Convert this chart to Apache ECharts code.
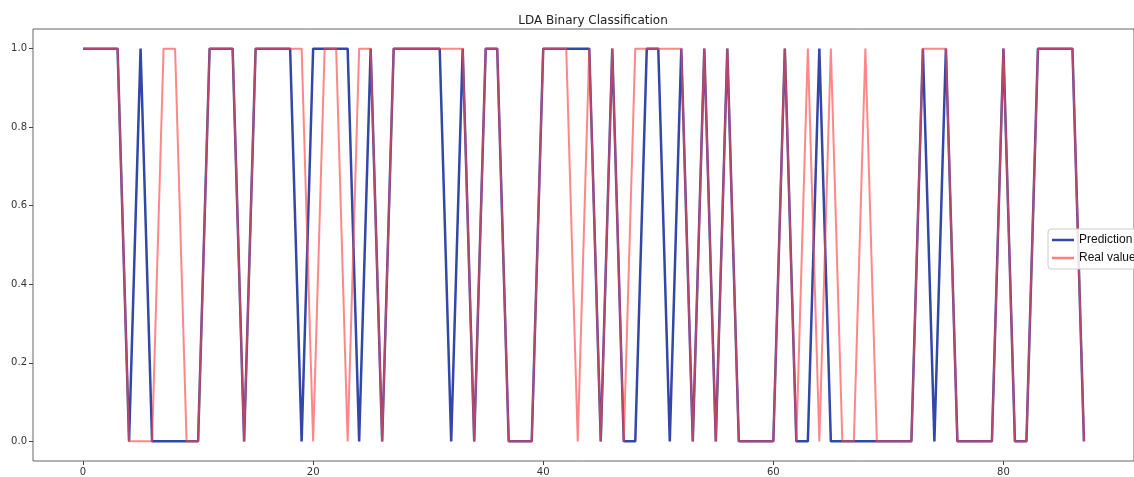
<!DOCTYPE html>
<html>
<head>
<meta charset="utf-8">
<script src="https://cdn.jsdelivr.net/npm/echarts@6/dist/echarts.min.js"></script>
<style>
	html, body { margin: 0; padding: 0; background: #fff; }
	#chart { width: 1134px; height: 477px; }
</style>
</head>
<body>
<div id="chart"></div>
<script>
// 数据: 每个样本的预测值与真实值 (0..87)
var prediction = [1, 1, 1, 1, 0, 1, 0, 0, 0, 0, 0, 1, 1, 1, 0, 1, 1, 1, 1, 0,
	1, 1, 1, 1, 0, 1, 0, 1, 1, 1, 1, 1, 0, 1, 0, 1, 1, 0, 0, 0,
	1, 1, 1, 1, 1, 0, 1, 0, 0, 1, 1, 0, 1, 0, 1, 0, 1, 0, 0, 0,
	0, 1, 0, 0, 1, 0, 0, 0, 0, 0, 0, 0, 0, 1, 0, 1, 0, 0, 0, 0,
	1, 0, 0, 1, 1, 1, 1, 0]
var realValues = [1, 1, 1, 1, 0, 0, 0, 1, 1, 0, 0, 1, 1, 1, 0, 1, 1, 1, 1, 1,
	0, 1, 1, 0, 1, 1, 0, 1, 1, 1, 1, 1, 1, 1, 0, 1, 1, 0, 0, 0,
	1, 1, 1, 0, 1, 0, 1, 0, 1, 1, 1, 1, 1, 0, 1, 0, 1, 0, 0, 0,
	0, 1, 0, 1, 0, 1, 0, 0, 1, 0, 0, 0, 0, 1, 1, 1, 0, 0, 0, 0,
	1, 0, 0, 1, 1, 1, 1, 0]
var xTicks = [0, 20, 40, 60, 80]
var yTicks = [0, 0.2, 0.4, 0.6, 0.8, 1.0]

var chart = echarts.init(document.getElementById('chart'))
var axisText = { color: '#333', fontSize: 10, fontFamily: 'DejaVu Sans' }

var option = {
	animation: false,
	title: {
		text: 'LDA Binary Classification',
		left: 588,
		textAlign: 'center',
		top: 10,
		textStyle: { fontSize: 12, fontWeight: 'normal', color: '#222', fontFamily: 'DejaVu Sans' }
	},
	legend: {
		orient: 'vertical',
		left: 1048,
		top: 229,
		icon: 'rect',
		itemWidth: 22,
		itemHeight: 2.5,
		itemGap: 6,
		padding: [5, 6, 5, 4],
		borderColor: '#ccc',
		borderWidth: 1,
		borderRadius: 3,
		backgroundColor: 'rgba(255,255,255,0.85)',
		textStyle: { fontSize: 12, color: '#111', fontFamily: 'Liberation Sans' },
		data: ['Prediction', 'Real values']
	},
	grid: {
		left: 33,
		top: 29,
		width: 1110,
		height: 435,
		show: true,
		borderColor: '#666',
		borderWidth: 1
	},
	xAxis: {
		type: 'value',
		min: -4.35,
		max: 91.35,
		splitLine: { show: false },
		axisLine: { show: false, onZero: false },
		axisTick: { show: true, length: 4, lineStyle: { color: '#444' }, customValues: xTicks },
		axisLabel: Object.assign({ customValues: xTicks, margin: 6 }, axisText)
	},
	yAxis: {
		type: 'value',
		min: -0.05,
		max: 1.05,
		splitLine: { show: false },
		axisLine: { show: false, onZero: false },
		axisTick: { show: true, length: 4, lineStyle: { color: '#444' }, customValues: yTicks },
		axisLabel: Object.assign({
			customValues: yTicks,
			margin: 6,
			formatter: function(v) { return v.toFixed(1) }
		}, axisText)
	},
	series: [{
		name: 'Prediction',
		type: 'line',
		symbol: 'none',
		color: '#3347a8',
		lineStyle: { width: 2.5, color: '#3347a8' },
		data: prediction.map(function(v, i) { return [i, v] })
	}, {
		name: 'Real values',
		type: 'line',
		symbol: 'none',
		color: 'rgba(255,70,70,0.7)',
		lineStyle: { width: 2, color: 'rgba(255,70,70,0.65)' },
		data: realValues.map(function(v, i) { return [i, v] })
	}]
}
chart.setOption(option)
</script>
</body>
</html>
